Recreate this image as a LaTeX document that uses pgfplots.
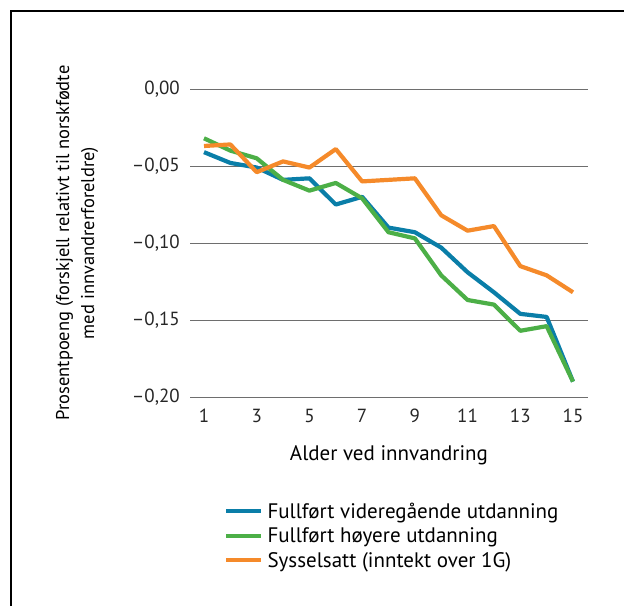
\documentclass[border=0pt]{standalone}
\usepackage{fontspec}
\setmainfont{PT Sans}
\usepackage{pgfplots}
\pgfplotsset{compat=1.18}

\definecolor{cblue}{HTML}{0A7EA8}
\definecolor{cgreen}{HTML}{4CAF47}
\definecolor{corange}{HTML}{F58A2A}
\definecolor{cgrid}{HTML}{6E6E6E}

\begin{document}
\begin{tikzpicture}[x=1pt,y=1pt]
\useasboundingbox (0,0) rectangle (624,-606);
\draw[line width=2.5pt] (11,-606) -- (11,-11) -- (624,-11);
\begin{axis}[
  at={(190pt,-397pt)}, anchor=south west,
  width=398pt, height=308pt, scale only axis,
  xmin=0.469, xmax=15.569, ymin=-0.2, ymax=0,
  axis line style={draw=none},
  tick style={draw=none},
  ymajorgrids, major grid style={cgrid, line width=0.9pt},
  xtick={1,3,...,15},
  ytick={-0.2,-0.15,-0.1,-0.05,0},
  yticklabels={{\textendash 0,20},{\textendash 0,15},{\textendash 0,10},{\textendash 0,05},{0,00}},
  /pgf/number format/assume math mode=true,
  tick label style={font=\fontsize{19}{22}\selectfont, text=black!85},
  yticklabel style={inner sep=0pt, anchor=east, xshift=-10pt},
  xticklabel style={inner sep=0pt, anchor=north, yshift=-12pt},
  xlabel={Alder ved innvandring},
  xlabel style={font=\fontsize{21}{24}\selectfont, at={(axis description cs:0.5,-0.188)}, anchor=center},
  ylabel={Prosentpoeng (forskjell relativt til norskfødte\\med innvandrerforeldre)},
  ylabel style={font=\fontsize{18.5}{25}\selectfont, align=center, at={(axis description cs:-0.284,0.5)}, anchor=center},
  clip=false,
  legend style={draw=none, fill=none, at={(axis description cs:0.085,-0.33)}, anchor=north west,
    inner xsep=0pt, inner ysep=0pt, font=\fontsize{21}{24}\selectfont,
    nodes={inner xsep=4.5pt, inner ysep=4pt}},
  legend cell align=left,
  legend image code/.code={\draw[#1, line width=4pt] (0pt,0pt) -- (35pt,0pt);},
  every axis plot/.append style={line width=4.2pt, line join=round},
]
\addplot[cblue] coordinates {
(1,-0.041) (2,-0.048) (3,-0.051) (4,-0.059) (5,-0.058) (6,-0.075) (7,-0.070) (8,-0.090)
(9,-0.093) (10,-0.103) (11,-0.119) (12,-0.132) (13,-0.146) (14,-0.148) (15,-0.190)};
\addplot[cgreen] coordinates {
(1,-0.032) (2,-0.040) (3,-0.045) (4,-0.059) (5,-0.066) (6,-0.061) (7,-0.071) (8,-0.093)
(9,-0.097) (10,-0.121) (11,-0.137) (12,-0.140) (13,-0.157) (14,-0.154) (15,-0.190)};
\addplot[corange] coordinates {
(1,-0.037) (2,-0.036) (3,-0.054) (4,-0.047) (5,-0.051) (6,-0.039) (7,-0.060) (8,-0.059)
(9,-0.058) (10,-0.082) (11,-0.092) (12,-0.089) (13,-0.115) (14,-0.121) (15,-0.132)};
\legend{Fullført videregående utdanning, Fullført høyere utdanning, Sysselsatt (inntekt over 1G)}
\end{axis}
\end{tikzpicture}
\end{document}
